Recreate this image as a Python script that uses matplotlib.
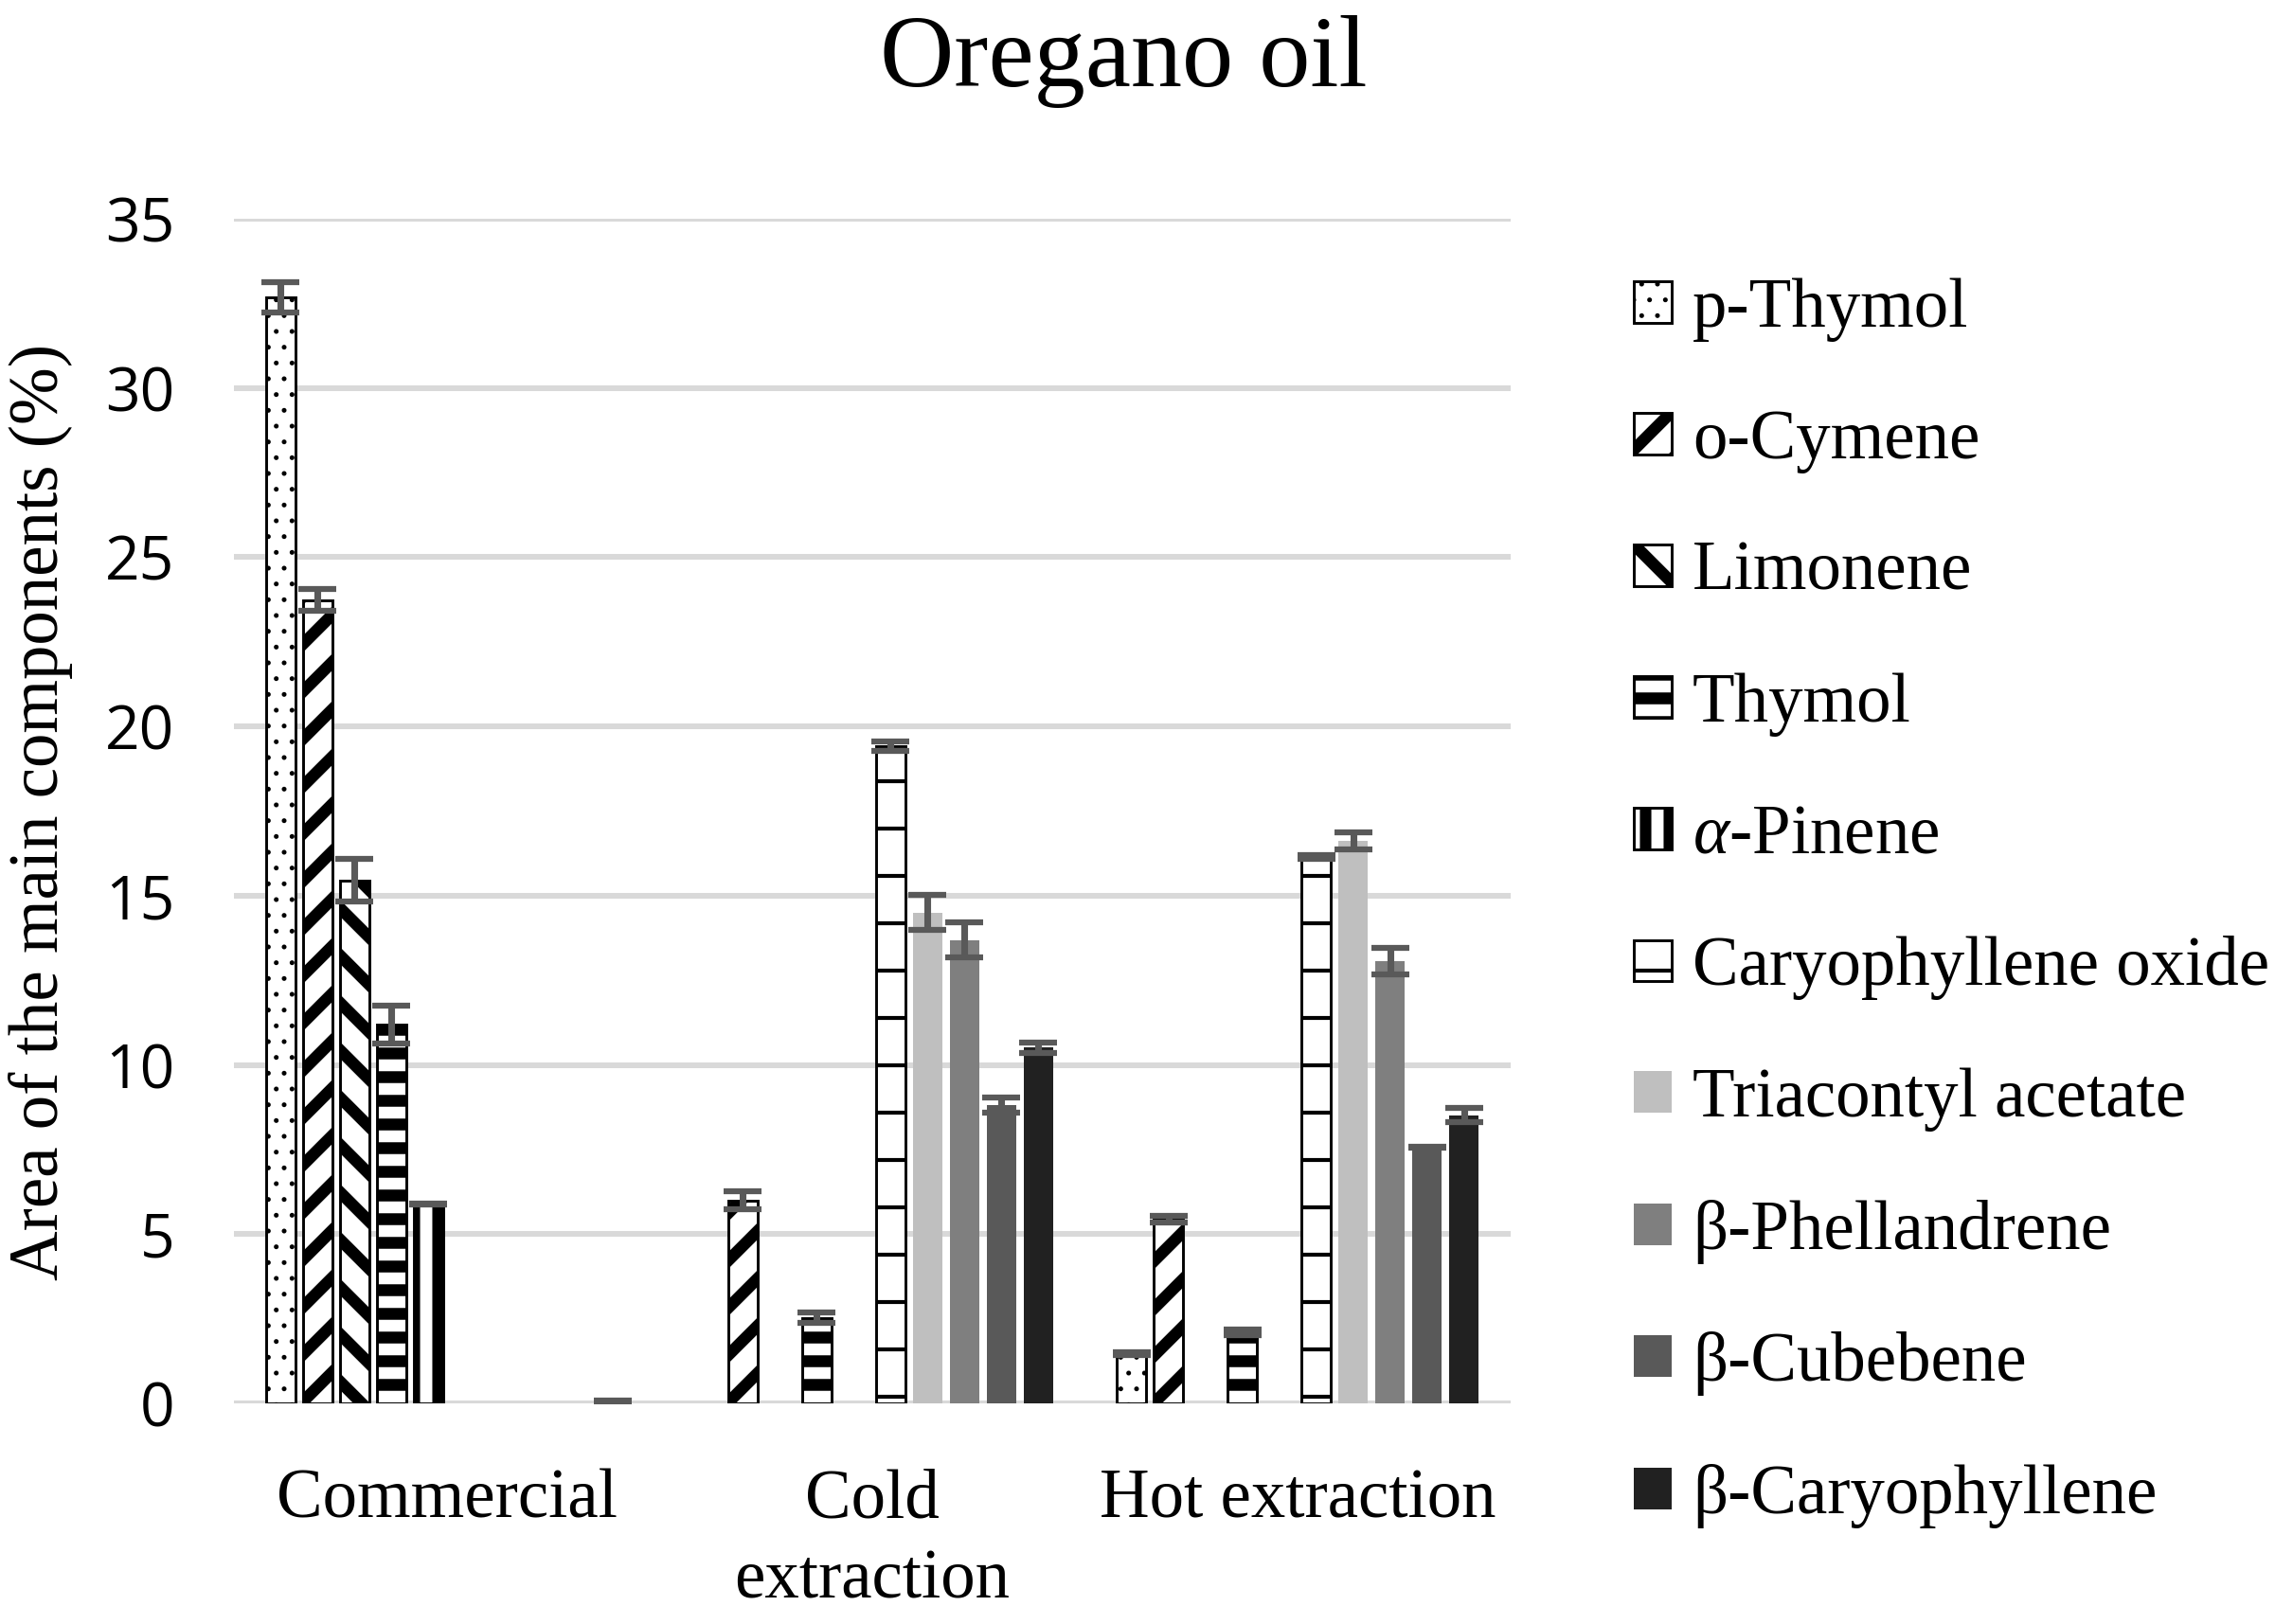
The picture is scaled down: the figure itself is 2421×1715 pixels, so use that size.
import numpy as np
import matplotlib.pyplot as plt

plt.rcParams['mathtext.fontset'] = 'custom'
plt.rcParams['mathtext.it'] = 'Liberation Serif:italic'
plt.rcParams['mathtext.rm'] = 'Liberation Serif'

groups = ['Commercial', 'Cold\nextraction', 'Hot extraction']
components = ['p-Thymol', 'o-Cymene', 'Limonene', 'Thymol', r'$\alpha$-Pinene',
              'Caryophyllene oxide', 'Triacontyl acetate', 'β-Phellandrene',
              'β-Cubebene', 'β-Caryophyllene']

# area (%) per component for Commercial, Cold extraction, Hot extraction
p_thymol = [32.67, 0, 1.47]
o_cymene = [23.73, 5.99, 5.45]
limonene = [15.45, 0, 0]
thymol = [11.18, 2.53, 2.1]
a_pinene = [5.88, 0, 0]
car_oxide = [0, 19.42, 16.15]
triacontyl = [0, 14.5, 16.62]
b_phell = [0, 13.69, 13.07]
b_cubebene = [0, 8.81, 7.56]
b_caryoph = [0.05, 10.51, 8.51]

p_thymol_err = [0.45, np.nan, 0.04]
o_cymene_err = [0.32, 0.27, 0.1]
limonene_err = [0.63, np.nan, np.nan]
thymol_err = [0.56, 0.15, 0.08]
a_pinene_err = [0.02, np.nan, np.nan]
car_oxide_err = [np.nan, 0.14, 0.06]
triacontyl_err = [np.nan, 0.51, 0.25]
b_phell_err = [np.nan, 0.51, 0.39]
b_cubebene_err = [np.nan, 0.23, 0.02]
b_caryoph_err = [0.02, 0.15, 0.21]

values = [p_thymol, o_cymene, limonene, thymol, a_pinene, car_oxide,
          triacontyl, b_phell, b_cubebene, b_caryoph]
errors = [p_thymol_err, o_cymene_err, limonene_err, thymol_err, a_pinene_err,
          car_oxide_err, triacontyl_err, b_phell_err, b_cubebene_err, b_caryoph_err]

# (facecolor, hatch, hatch linewidth)
styles = [('white', '...', 0.4),
          ('white', '//', 3.0),
          ('white', '\\\\', 3.0),
          ('white', '--', 3.0),
          ('white', '||', 2.9),
          ('white', '-', 1.0),
          ('#bfbfbf', None, 1.0),
          ('#7f7f7f', None, 1.0),
          ('#595959', None, 1.0),
          ('#212121', None, 1.0)]

fig = plt.figure(figsize=(2421 / 300, 1715 / 300), dpi=300)
ax = fig.add_axes([0.102, 0.1359, 0.5568, 0.7294])

x = np.arange(len(groups))
pitch = 0.0868
width = 0.069
n = len(components)

for i, (name, vals, errs, st) in enumerate(zip(components, values, errors, styles)):
    fc, hatch, hlw = st
    pos = x + (i - (n - 1) / 2) * pitch
    with plt.rc_context({'hatch.linewidth': hlw}):
        if hatch:
            bars = ax.bar(pos, vals, width, color=fc, edgecolor='black',
                          linewidth=0.7, hatch=hatch, label=name, zorder=2)
        else:
            bars = ax.bar(pos, vals, width, color=fc, linewidth=0,
                          label=name, zorder=2)
    for b, v in zip(bars, vals):
        if hasattr(b, 'set_hatch_linewidth'):
            b.set_hatch_linewidth(hlw)
        if v == 0:
            b.set_linewidth(0)
    errs = np.array(errs, dtype=float)
    m = ~np.isnan(errs)
    if m.any():
        ax.errorbar(pos[m], np.array(vals)[m], yerr=errs[m], fmt='none',
                    ecolor='#595959', elinewidth=1.7, capsize=4.7,
                    capthick=1.5, zorder=3)

ax.set_xlim(-0.5, 2.5)
ax.set_ylim(0, 35)
ax.set_yticks(np.arange(0, 36, 5))
ax.set_xticks(x)
ax.set_xticklabels(groups, fontsize=17.5, family='Liberation Serif',
                   linespacing=1.34)
for t in ax.get_yticklabels():
    t.set_family('Open Sans')
    t.set_fontsize(15.4)
ax.tick_params(axis='both', length=0)
ax.tick_params(axis='y', pad=15)
ax.tick_params(axis='x', pad=16.6)
for s in ax.spines.values():
    s.set_visible(False)
ax.yaxis.grid(True, color='#d9d9d9', linewidth=1.45)
ax.set_axisbelow(True)

fig.text(0.490, 0.962, 'Oregano oil', ha='center', va='center',
         fontsize=26, family='Liberation Serif')
fig.text(0.0178, 0.5003, 'Area of the main components (%)', rotation=90,
         ha='center', va='center', fontsize=17.5, family='Liberation Serif')

leg = ax.legend(loc='center left', bbox_to_anchor=(0.7125, 0.444),
                bbox_transform=fig.transFigure, frameon=False,
                prop={'family': 'Liberation Serif', 'size': 17.5},
                handlelength=0.55, handleheight=0.55, handletextpad=0.3,
                labelspacing=0.98, borderpad=0, borderaxespad=0)
for p, st in zip(leg.get_patches(), styles):
    if st[1]:
        p.set_edgecolor('black')
        p.set_linewidth(0.7)
    if hasattr(p, 'set_hatch_linewidth'):
        p.set_hatch_linewidth(st[2])

fig.savefig('out.png', dpi=300)
